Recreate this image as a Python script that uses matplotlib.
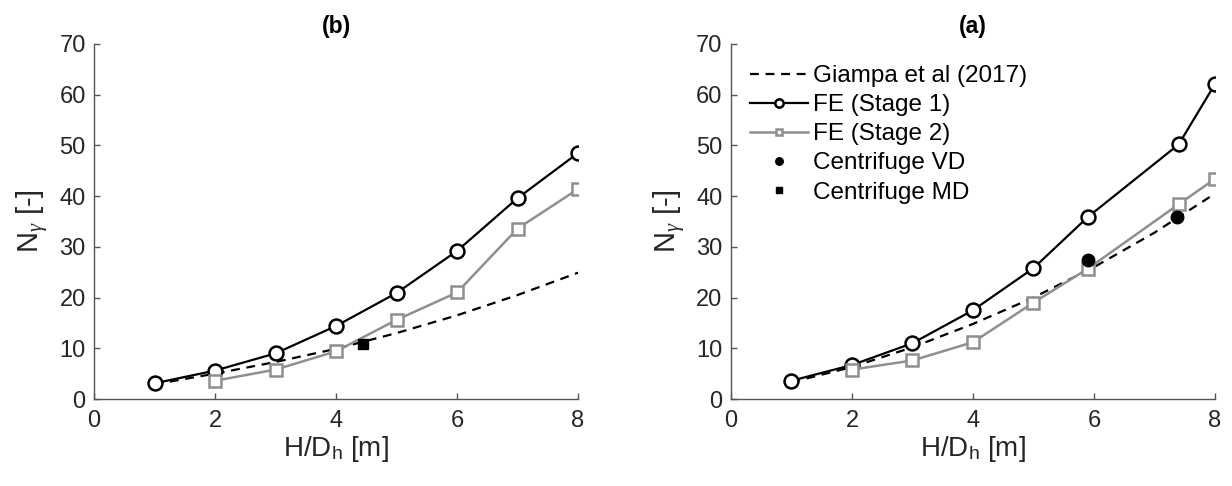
import numpy as np
import matplotlib
matplotlib.use('Agg')
import matplotlib.pyplot as plt

plt.rcParams['font.family'] = ['Liberation Sans', 'DejaVu Sans']
plt.rcParams['mathtext.fontset'] = 'custom'
plt.rcParams['mathtext.rm'] = 'Liberation Sans'
plt.rcParams['mathtext.it'] = 'Liberation Serif:italic'

# panel (b)
b_x = [1, 2, 3, 4, 5, 6, 7, 8]
b_giampa = [2.9, 5.0, 7.3, 9.9, 13.0, 16.5, 20.5, 24.9]
b_stage1 = [3.1, 5.6, 9.0, 14.4, 20.9, 29.2, 39.6, 48.5]
b_stage2_x = [2, 3, 4, 5, 6, 7, 8]
b_stage2 = [3.6, 5.8, 9.4, 15.6, 21.0, 33.6, 41.4]
b_md_x = [4.45]
b_md = [10.9]

# panel (a)
a_giampa_x = [1, 2, 3, 4, 5, 6, 7, 8]
a_giampa = [3.3, 6.3, 10.2, 14.8, 20.0, 26.0, 32.8, 40.5]
a_stage1_x = [1, 2, 3, 4, 5, 5.9, 7.4, 8]
a_stage1 = [3.6, 6.7, 11.0, 17.5, 25.8, 35.9, 50.2, 62.1]
a_stage2_x = [2, 3, 4, 5, 5.9, 7.4, 8]
a_stage2 = [5.8, 7.6, 11.2, 19.0, 25.7, 38.4, 43.4]
a_vd_x = [5.9, 7.38]
a_vd = [27.4, 35.8]

grey = '#8f8f8f'
axis_col = '#262626'
spine_col = '#555555'


def style_axes(ax, title):
    ax.set_xlim(0, 8)
    ax.set_ylim(0, 70)
    ax.set_xticks([0, 2, 4, 6, 8])
    ax.set_yticks(range(0, 71, 10))
    for side in ['top', 'right']:
        ax.spines[side].set_visible(False)
    for side in ['left', 'bottom']:
        ax.spines[side].set_color(spine_col)
        ax.spines[side].set_linewidth(1.0)
    ax.tick_params(direction='in', length=4, width=1.0, color=spine_col,
                   labelcolor=axis_col, labelsize=17)
    ax.tick_params(axis='x', pad=8)
    ax.tick_params(axis='y', pad=6)
    ax.set_xlabel(r'H/D$_\mathregular{h}$ [m]', fontsize=20, color=axis_col, labelpad=1)
    ax.set_ylabel(r'N$_{\mathit{\gamma}}$ [-]', fontsize=21, color=axis_col, labelpad=6)
    ax.set_title(title, fontsize=16.5, fontweight='bold', pad=8)


fig = plt.figure(figsize=(12.32, 4.86), dpi=100)
ax_b = fig.add_axes([0.0763, 0.179, 0.3929, 0.7305])
ax_a = fig.add_axes([0.5933, 0.179, 0.3929, 0.7305])

ax_b.plot(b_x, b_giampa, '--', color='black', lw=1.6, dashes=(4, 3))
ax_b.plot(b_x, b_stage1, '-o', color='black', lw=1.6, ms=10, mfc='white', mew=1.8)
ax_b.plot(b_stage2_x, b_stage2, '-s', color=grey, lw=1.8, ms=8, mfc='white', mew=1.8)
ax_b.plot(b_md_x, b_md, 's', color='black', ms=6.5, ls='none')
style_axes(ax_b, '(b)')

ax_a.plot(a_giampa_x, a_giampa, '--', color='black', lw=1.6, dashes=(4, 3),
          label='Giampa et al (2017)')
ax_a.plot(a_stage1_x, a_stage1, '-o', color='black', lw=1.6, ms=10, mfc='white', mew=1.8,
          label='FE (Stage 1)')
ax_a.plot(a_stage2_x, a_stage2, '-s', color=grey, lw=1.8, ms=8, mfc='white', mew=1.8,
          label='FE (Stage 2)')
ax_a.plot(a_vd_x, a_vd, 'o', color='black', ms=9, ls='none', label='Centrifuge VD')
ax_a.plot([], [], 's', color='black', ms=7, ls='none', label='Centrifuge MD')
style_axes(ax_a, '(a)')

leg = ax_a.legend(loc='upper left', bbox_to_anchor=(0.039, 0.94), frameon=False,
                  fontsize=17.5, handlelength=2.4, handletextpad=0.2,
                  labelspacing=0.29, borderaxespad=0, borderpad=0, markerscale=0.6)

fig.savefig('out.png', dpi=100)
